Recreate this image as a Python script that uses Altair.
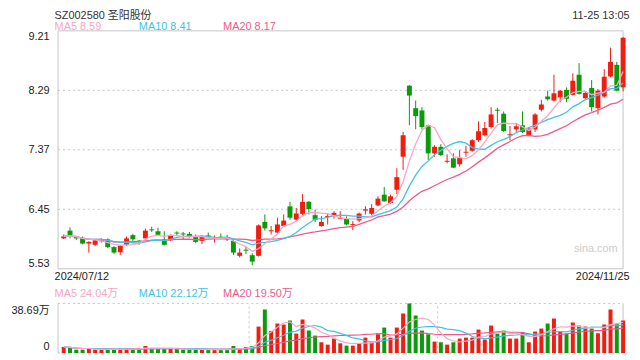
import altair as alt
import pandas as pd

# ---------------- data ----------------
opens = [6.00, 6.12, 6.02, 6.01, 5.92, 5.90, 5.955, 5.985, 5.865, 5.785,
         5.90, 6.05, 5.965, 6.00, 6.14, 6.11, 5.985, 5.97, 6.09, 6.075,
         6.07, 6.025, 5.96, 6.045, 6.00, 6.025, 6.02, 5.96, 5.73, 5.825,
         5.74, 5.73, 6.255, 6.11, 6.09, 6.19, 6.495, 6.29, 6.38, 6.565,
         6.36, 6.19, 6.33, 6.345, 6.305, 6.30, 6.205, 6.277, 6.43, 6.38,
         6.51, 6.676, 6.548, 6.752, 7.263, 8.362, 8.014, 7.979, 7.749, 7.315,
         7.416, 7.185, 7.238, 7.146, 7.325, 7.355, 7.519, 7.595, 7.723, 7.99,
         7.928, 7.595, 7.687, 7.749, 7.595, 7.687, 7.99, 8.194, 8.132, 8.183,
         8.296, 8.22, 8.531, 8.167, 8.327, 8.014, 8.194, 8.505, 8.684, 8.336]
highs = [6.06, 6.17, 6.04, 6.03, 5.955, 5.985, 6.00, 6.00, 5.88, 5.89,
         6.03, 6.07, 5.975, 6.15, 6.18, 6.165, 6.11, 6.06, 6.11, 6.10,
         6.10, 6.06, 6.045, 6.09, 6.045, 6.075, 6.055, 5.985, 5.845, 5.875,
         5.77, 6.215, 6.37, 6.19, 6.32, 6.37, 6.565, 6.47, 6.685, 6.575,
         6.445, 6.345, 6.385, 6.42, 6.42, 6.34, 6.266, 6.40, 6.497, 6.53,
         6.65, 6.793, 6.675, 7.085, 7.646, 8.37, 8.132, 8.03, 7.76, 7.442,
         7.457, 7.30, 7.315, 7.366, 7.432, 7.534, 7.81, 7.80, 8.03, 8.02,
         7.963, 7.738, 7.775, 7.963, 7.723, 7.937, 8.143, 8.285, 8.531, 8.296,
         8.336, 8.551, 8.71, 8.27, 8.45, 8.311, 8.618, 8.95, 8.73, 9.113]
lows = [5.99, 6.00, 5.975, 5.91, 5.78, 5.88, 5.935, 5.85, 5.76, 5.745,
        5.88, 5.955, 5.90, 5.985, 6.10, 6.035, 5.89, 5.955, 6.035, 5.975,
        6.01, 5.925, 5.91, 6.00, 5.935, 5.985, 5.96, 5.74, 5.705, 5.755,
        5.585, 5.72, 6.12, 6.06, 6.075, 6.18, 6.29, 6.265, 6.355, 6.37,
        6.25, 6.18, 6.215, 6.305, 6.30, 6.20, 6.128, 6.25, 6.368, 6.36,
        6.50, 6.564, 6.533, 6.686, 7.059, 7.75, 7.687, 7.687, 7.212, 7.263,
        7.273, 7.161, 7.085, 7.11, 7.263, 7.339, 7.493, 7.58, 7.698, 7.784,
        7.646, 7.519, 7.646, 7.63, 7.58, 7.646, 7.963, 8.132, 8.117, 8.106,
        8.106, 8.209, 8.224, 8.158, 7.963, 7.917, 8.174, 8.49, 8.275, 8.275]
closes = [6.03, 6.05, 6.00, 5.92, 5.945, 5.97, 5.97, 5.865, 5.78, 5.885,
          6.00, 5.985, 5.95, 6.12, 6.125, 6.055, 5.90, 6.05, 6.075, 6.06,
          6.025, 5.945, 6.025, 6.01, 6.015, 6.005, 5.985, 5.78, 5.78, 5.81,
          5.64, 6.20, 6.155, 6.125, 6.215, 6.275, 6.32, 6.385, 6.565, 6.455,
          6.29, 6.255, 6.345, 6.395, 6.32, 6.215, 6.22, 6.384, 6.45, 6.47,
          6.614, 6.573, 6.65, 6.947, 7.595, 8.209, 7.891, 7.723, 7.315, 7.416,
          7.289, 7.20, 7.094, 7.247, 7.34, 7.519, 7.657, 7.707, 7.917, 7.975,
          7.661, 7.61, 7.733, 7.646, 7.698, 7.917, 8.071, 8.152, 8.244, 8.285,
          8.158, 8.439, 8.235, 8.25, 8.03, 8.285, 8.50, 8.73, 8.285, 9.103]
volumes = [4.71, 4.18, 2.61, 2.61, 3.40, 2.61, 2.61, 2.61, 2.61, 3.40,
           3.40, 3.40, 3.40, 5.49, 3.40, 3.40, 3.40, 3.40, 3.40, 2.61,
           2.61, 2.61, 2.61, 2.61, 2.61, 2.61, 2.61, 5.49, 3.40, 4.71,
           5.49, 20.65, 33.98, 17.25, 23.00, 22.22, 25.36, 15.16, 26.14, 17.52,
           13.59, 8.37, 6.54, 11.24, 7.58, 5.75, 5.75, 7.58, 12.03, 8.10,
           14.64, 19.87, 12.03, 19.87, 30.85, 38.69, 29.28, 17.52, 14.64, 8.89,
           8.37, 6.54, 8.37, 11.24, 12.03, 12.03, 18.30, 10.46, 21.44, 15.16,
           17.52, 11.24, 11.24, 16.47, 8.37, 16.73, 19.08, 23.00, 26.93, 16.73,
           15.16, 23.79, 21.44, 20.65, 19.08, 15.42, 22.22, 33.98, 23.00, 25.36]

price_ticks = [9.21, 8.29, 7.37, 6.45, 5.53]
vol_max = 38.69
title_text = "SZ002580 圣阳股份"
time_text = "11-25 13:05"
start_date = "2024/07/12"
end_date = "2024/11/25"
price_ma_labels = ["MA5 8.59", "MA10 8.41", "MA20 8.17"]
vol_ma_labels = ["MA5 24.04万", "MA10 22.12万", "MA20 19.50万"]
vol_axis_labels = ["38.69万", "0"]
month_marks = [29.5, 59.5]

# ---------------- styling ----------------
FONT = "Liberation Sans, Arial, Noto Sans CJK SC, sans-serif"
RED = "#f11d10"
GREEN = "#0b9a0b"
MA_COLORS = ["#f9a5c4", "#41c3e2", "#ee5a8d"]
FRAME = "#c4c4c4"
W = 580
PH = 240
VH = 50
H = 325
X0, X1 = -0.9, len(closes) - 1

df = pd.DataFrame({"i": list(range(len(closes))), "open": opens, "high": highs,
                   "low": lows, "close": closes, "vol": volumes})
df["dir"] = ["up" if c >= o else "down" for o, c in zip(opens, closes)]
for n in (5, 10, 20):
    df[f"ma{n}"] = df["close"].rolling(n, min_periods=1).mean()
    df[f"vma{n}"] = df["vol"].rolling(n, min_periods=1).mean()

xs = alt.Scale(domain=[X0, X1], nice=False, zero=False)
X = alt.X("i:Q", scale=xs, axis=None)
pscale = alt.Scale(domain=[price_ticks[-1], price_ticks[0]], range=[PH, 0], nice=False, zero=False)
vscale = alt.Scale(domain=[0, vol_max], range=[H, H - VH], nice=False, zero=False)
col = alt.Color("dir:N", scale=alt.Scale(domain=["up", "down"], range=[RED, GREEN]), legend=None)

PAXIS = alt.Axis(
    values=price_ticks, format=".2f", labelFlush=True, grid=False, domain=False,
    ticks=False, labelPadding=4, labelFontSize=11, labelFont=FONT,
    labelColor="#222222", title=None)


def PY(field):
    return alt.Y(field, scale=pscale, axis=PAXIS)


def VY(field):
    return alt.Y(field, scale=vscale, axis=None)


def hline_df(levels):
    rows = [{"i": xv, "v": lv} for lv in levels for xv in (X0, X1)]
    return pd.DataFrame(rows)


base = alt.Chart(df)

# ---------------- price panel ----------------
pgrid = alt.Chart(hline_df(price_ticks[1:-1])).mark_line(
    strokeDash=[2, 3], color=FRAME, strokeWidth=1
).encode(x=X, y=PY("v:Q"), detail="v:N")

pframe_h = alt.Chart(hline_df([price_ticks[0], price_ticks[-1]])).mark_line(
    color=FRAME, strokeWidth=1
).encode(x=X, y=PY("v:Q"), detail="v:N")

pframe_v = alt.Chart(pd.DataFrame({"i": [X0, X1], "a": [price_ticks[-1]] * 2,
                                   "b": [price_ticks[0]] * 2})).mark_rule(
    color=FRAME, strokeWidth=1
).encode(x=X, y=PY("a:Q"), y2="b:Q")

wicks = base.mark_rule(strokeWidth=1).encode(x=X, y=PY("low:Q"), y2="high:Q", color=col)

bodies = base.mark_bar(size=5).encode(x=X, y=PY("open:Q"), y2="close:Q", color=col)

ma_lines = [
    base.mark_line(color=c, strokeWidth=1.3).encode(x=X, y=PY(f"ma{n}:Q"))
    for n, c in [(20, MA_COLORS[2]), (10, MA_COLORS[1]), (5, MA_COLORS[0])]
]

price = alt.layer(pgrid, pframe_h, pframe_v, wicks, bodies, *ma_lines)

# ---------------- volume panel ----------------
vgrid = alt.Chart(hline_df([0, vol_max])).mark_line(
    strokeDash=[2, 3], color=FRAME, strokeWidth=1
).encode(x=X, y=VY("v:Q"), detail="v:N")

vvert = alt.Chart(pd.DataFrame({"i": month_marks, "a": [0] * len(month_marks),
                                "b": [vol_max] * len(month_marks)})).mark_rule(
    strokeDash=[2, 3], color=FRAME, strokeWidth=1
).encode(x=X, y=VY("a:Q"), y2="b:Q")

vsides = alt.Chart(pd.DataFrame({"i": [X0, X1], "a": [0, 0], "b": [vol_max, vol_max]})).mark_rule(
    color=FRAME, strokeWidth=1
).encode(x=X, y=VY("a:Q"), y2="b:Q")

vbars = base.mark_bar(size=4).encode(
    x=X, y=VY("vol:Q"), y2=alt.datum(0), color=col)

vma_lines = [
    base.mark_line(color=c, strokeWidth=1.2).encode(x=X, y=VY(f"vma{n}:Q"))
    for n, c in [(20, MA_COLORS[2]), (10, MA_COLORS[1]), (5, MA_COLORS[0])]
]

vlab_top = alt.Chart(pd.DataFrame({"v": [vol_max], "t": [vol_axis_labels[0]]})).mark_text(
    align="right", baseline="top", dy=2, fontSize=11, font=FONT, color="#222222"
).encode(y=VY("v:Q"), x=alt.value(-3.5), text="t:N")
vlab_zero = alt.Chart(pd.DataFrame({"v": [0], "t": [vol_axis_labels[1]]})).mark_text(
    align="right", baseline="bottom", dy=-1, fontSize=11, font=FONT, color="#222222"
).encode(y=VY("v:Q"), x=alt.value(-3.5), text="t:N")

vol = alt.layer(vgrid, vvert, vsides, vbars, *vma_lines, vlab_top, vlab_zero)


# ---------------- text annotations ----------------
def label(txt, x, y, color, align="left", size=11):
    return alt.Chart(pd.DataFrame({"t": [txt]})).mark_text(
        align=align, baseline="middle", fontSize=size, font=FONT, color=color
    ).encode(text="t:N", x=alt.value(x), y=alt.value(y))


texts = alt.layer(
    label(title_text, 1.5, -15.3, "#333333"),
    label(time_text, W + 1.5, -15.3, "#333333", align="right"),
    label(price_ma_labels[0], 1.5, -4.3, MA_COLORS[0]),
    label(price_ma_labels[1], 86.5, -4.3, MA_COLORS[1]),
    label(price_ma_labels[2], 171.5, -4.3, MA_COLORS[2]),
    label(start_date, 1.5, 248, "#222222"),
    label(end_date, W + 1.5, 248, "#222222", align="right"),
    label(vol_ma_labels[0], 1.5, 265.7, MA_COLORS[0]),
    label(vol_ma_labels[1], 86.5, 265.7, MA_COLORS[1]),
    label(vol_ma_labels[2], 171.5, 265.7, MA_COLORS[2]),
    label("sina.com", 569.5, 219.7, "#cccccc", align="right"),
)

chart = alt.layer(price, vol, texts).resolve_scale(y="independent").properties(
    width=W, height=H,
    padding={"left": 45.5, "top": 21.5, "right": 4, "bottom": 5},
    autosize=alt.AutoSizeParams(type="none"),
).configure_view(stroke=None)

chart.save("out.html", embed_options={"renderer": "svg", "actions": False})
